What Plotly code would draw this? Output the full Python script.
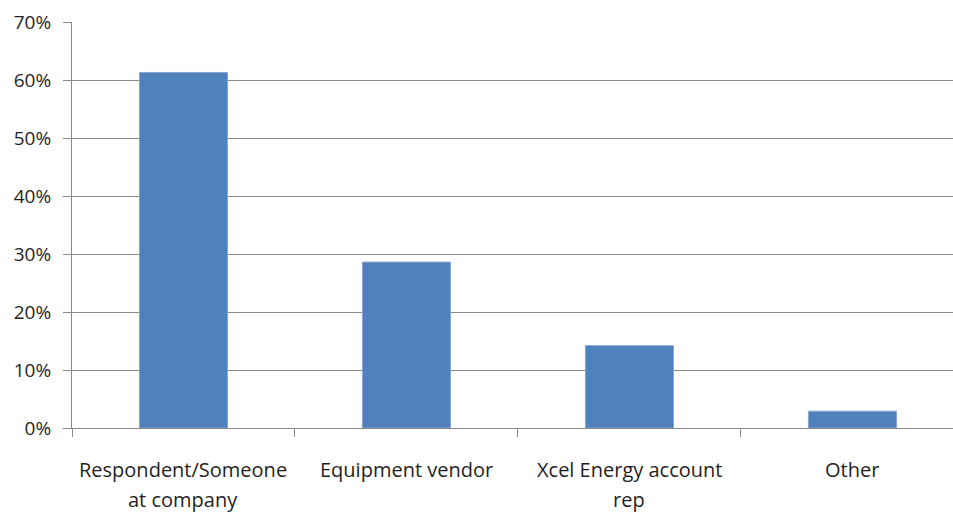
import plotly.graph_objects as go

# Who initiated the project
categories = ["Respondent/Someone<br>at company", "Equipment vendor",
              "Xcel Energy account<br>rep", "Other"]
shares = [0.613, 0.286, 0.142, 0.029]
y_ticks = [0, 0.1, 0.2, 0.3, 0.4, 0.5, 0.6, 0.7]
y_tick_text = ["0%", "10%", "20%", "30%", "40%", "50%", "60%", "70%"]

FONT = "Open Sans"
TEXT_COLOR = "#1f1f1f"
GRID = "#8a8a8a"

fig = go.Figure(go.Bar(
    x=list(range(len(categories))),
    y=shares,
    marker=dict(color="#4F81BD", line=dict(color="#86a6d1", width=1)),
    hoverinfo="skip",
))

# category labels, one annotation per text line for Excel-like line spacing
annotations = []
for i, label in enumerate(categories):
    for j, line in enumerate(label.split("<br>")):
        annotations.append(dict(
            x=i, y=0, xref="x", yref="y", text=line, showarrow=False,
            yanchor="middle", xanchor="center", yshift=-41 - 30 * j,
            font=dict(family=FONT, size=20, color=TEXT_COLOR),
        ))

fig.update_layout(
    width=953, height=512,
    margin=dict(l=72, r=0, t=22, b=84),
    paper_bgcolor="white", plot_bgcolor="white",
    bargap=0.605,
    showlegend=False,
    annotations=annotations,
    xaxis=dict(
        range=[-0.5, 3.451],
        tickmode="array",
        tickvals=[-0.5, 0.5, 1.5, 2.5, 3.5],
        ticktext=["", "", "", "", ""],
        ticks="outside", ticklen=8, tickcolor=GRID, tickwidth=1,
        showline=True, linecolor=GRID, linewidth=1,
        showgrid=False, zeroline=False, fixedrange=True,
    ),
    yaxis=dict(
        range=[0, 0.7],
        tickvals=y_ticks, ticktext=y_tick_text,
        ticks="outside", ticklen=8, tickcolor=GRID, tickwidth=1,
        showline=True, linecolor=GRID, linewidth=1,
        showgrid=True, gridcolor=GRID, gridwidth=1,
        zeroline=False, ticklabelstandoff=8,
        tickfont=dict(family=FONT, size=19, color=TEXT_COLOR),
        fixedrange=True,
    ),
)

fig.write_html("out.html", config={"displayModeBar": False})
